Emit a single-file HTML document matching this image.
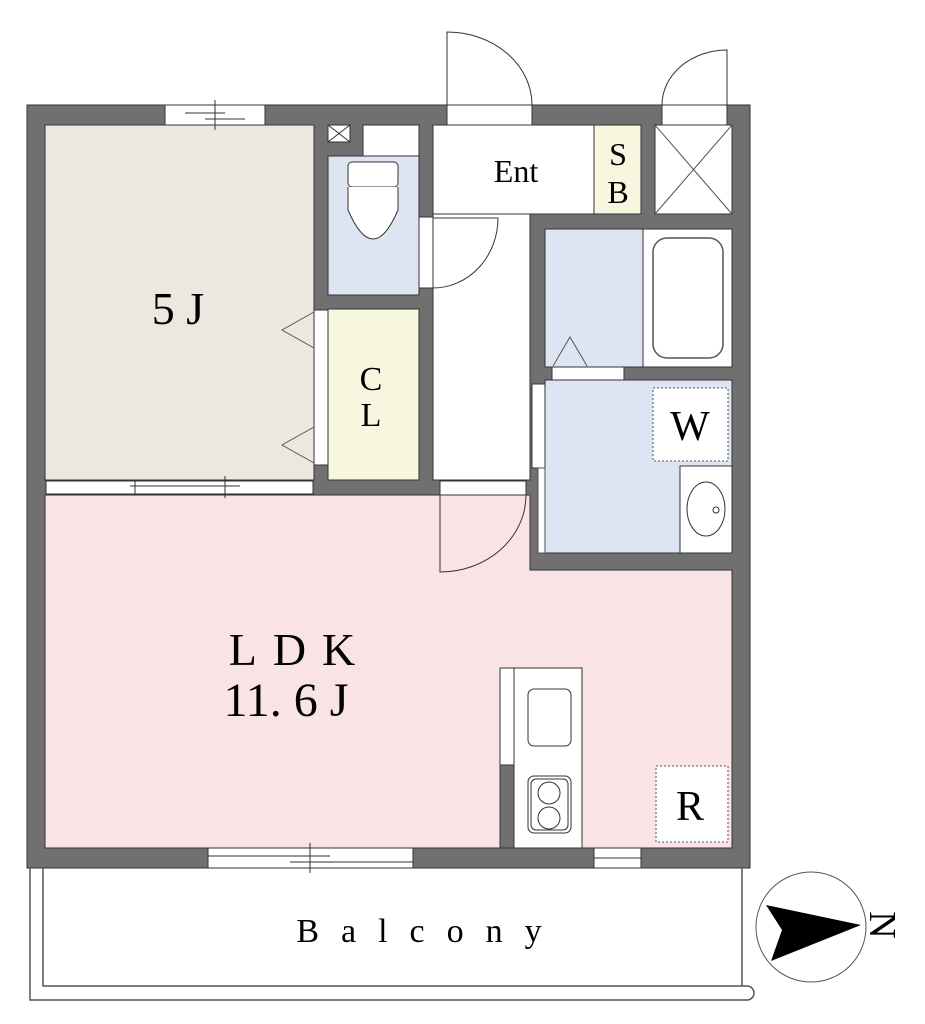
<!DOCTYPE html>
<html><head><meta charset="utf-8"><style>body{margin:0;background:#fff}svg{display:block}text{font-family:"Liberation Serif",serif;fill:#000}</style></head><body>
<svg width="925" height="1024" viewBox="0 0 925 1024" xmlns="http://www.w3.org/2000/svg">
<rect x="27" y="105" width="723" height="763" fill="#707070" stroke="#333" stroke-width="1"/>
<path d="M45 495 H530 V570 H732 V848 H45 Z" fill="#f9e3e4" stroke="#333"/>
<rect x="45" y="125" width="269" height="355" fill="#ece8df" stroke="#333"/>
<rect x="328" y="156" width="91" height="139" fill="#dee5f2" stroke="#333"/>
<rect x="363" y="125" width="56" height="31" fill="#fff" stroke="#333"/>
<rect x="328" y="125" width="22" height="17" fill="#fff" stroke="#333"/>
<path d="M328 125 L350 142 M350 125 L328 142" stroke="#333"/>
<rect x="348" y="162" width="50" height="25" rx="4" fill="#fff" stroke="#333"/>
<rect x="358" y="190" width="30" height="6" fill="#fff" stroke="#333"/>
<path d="M348 187 V210 Q373 268 398 210 V187" fill="#fff" stroke="#333"/>
<rect x="328" y="309" width="91" height="171" fill="#f7f6de" stroke="#333"/>
<rect x="314" y="310" width="14" height="155" fill="#fff" stroke="#333"/>
<path d="M314 312 L282 330 L314 348 M314 427 L282 445 L314 463" fill="none" stroke="#555"/>
<rect x="433" y="125" width="161" height="89" fill="#fff" stroke="#333"/>
<path d="M433 214 H530 V480 H433 Z" fill="#fff" stroke="#333"/>
<rect x="594" y="125" width="47" height="89" fill="#f7f6de" stroke="#333"/>
<rect x="655" y="125" width="77" height="89" fill="#fff" stroke="#333"/>
<path d="M655 125 L732 214 M732 125 L655 214" stroke="#555"/>
<rect x="447" y="105" width="85" height="20" fill="#fff" stroke="#333"/>
<path d="M447 105 V32 A85 73 0 0 1 532 105" fill="none" stroke="#333"/>
<rect x="662" y="105" width="65" height="20" fill="#fff" stroke="#333"/>
<path d="M727 105 V50 A65 55 0 0 0 662 105" fill="none" stroke="#333"/>
<rect x="419" y="217" width="14" height="71" fill="#fff" stroke="#333"/>
<path d="M433 288 A65 70 0 0 0 498 218 H433" fill="none" stroke="#333"/>
<rect x="545" y="229" width="98" height="138" fill="#dee5f2" stroke="#333"/>
<rect x="643" y="229" width="89" height="138" fill="#fff" stroke="#333"/>
<rect x="653" y="238" width="70" height="120" rx="14" fill="#fff" stroke="#555" stroke-width="1.5"/>
<rect x="552" y="367" width="72" height="13" fill="#fff" stroke="#333"/>
<path d="M553 366 L570 337 L587 366" fill="none" stroke="#555"/>
<rect x="545" y="380" width="187" height="173" fill="#dee5f2" stroke="#333"/>
<rect x="653" y="388" width="75" height="73" fill="#fff" stroke="#555" stroke-dasharray="2 2"/>
<rect x="680" y="466" width="52" height="87" fill="#fff" stroke="#333"/>
<ellipse cx="706" cy="509" rx="19" ry="27" fill="#fff" stroke="#333"/>
<circle cx="716" cy="510" r="3" fill="#fff" stroke="#333"/>
<rect x="532" y="384" width="13" height="84" fill="#fff" stroke="#333"/>
<rect x="538" y="468" width="7" height="85" fill="#fff" stroke="#555"/>
<rect x="440" y="481" width="86" height="14" fill="#fff" stroke="#333"/>
<path d="M440 495 V572 A86 77 0 0 0 526 495" fill="none" stroke="#333"/>
<rect x="165" y="105" width="100" height="20" fill="#fff" stroke="#333"/>
<path d="M185 113 H225 M205 119 H245 M215 100 V130" stroke="#333"/>
<rect x="46" y="481" width="267" height="13" fill="#fff" stroke="#333"/>
<path d="M135 481 V494 M130 486 H240 M225 476 V498" stroke="#333"/>
<rect x="208" y="848" width="205" height="20" fill="#fff" stroke="#333"/>
<path d="M208 856 H330 M290 862 H413 M310 843 V873" stroke="#333"/>
<rect x="594" y="848" width="47" height="20" fill="#fff" stroke="#333"/>
<path d="M594 858 H641" stroke="#333"/>
<rect x="500" y="668" width="14" height="180" fill="#707070" stroke="#333"/>
<rect x="500" y="668" width="14" height="97" fill="#fff" stroke="#333"/>
<rect x="514" y="668" width="68" height="180" fill="#fff" stroke="#333"/>
<rect x="528" y="689" width="43" height="57" rx="6" fill="#fff" stroke="#333"/>
<rect x="528" y="776" width="43" height="57" rx="6" fill="#fff" stroke="#333"/>
<rect x="531" y="779" width="37" height="51" rx="5" fill="none" stroke="#333"/>
<circle cx="549" cy="793" r="11" fill="none" stroke="#333"/>
<circle cx="549" cy="818" r="11" fill="none" stroke="#333"/>
<rect x="656" y="766" width="72" height="76" fill="#fff" stroke="#555" stroke-dasharray="2 2"/>
<path d="M30 868 V1000 H747 A6 6 0 0 0 747 986 H43 V868 M742 868 V986" fill="none" stroke="#555" stroke-width="1.5"/>
<circle cx="811" cy="927" r="55" fill="#fff" stroke="#555"/>
<path d="M766 905 L861 925 L771 961 L782 930 Z" fill="#000"/>
<text x="0" y="0" font-size="38" transform="translate(870,925) rotate(90)" text-anchor="middle">N</text>
<text x="178" y="324" font-size="46" text-anchor="middle">5 J</text>
<text x="516" y="182" font-size="32" text-anchor="middle">Ent</text>
<text x="618" y="165" font-size="32" text-anchor="middle">S</text>
<text x="618" y="203" font-size="32" text-anchor="middle">B</text>
<text x="371" y="390" font-size="34" text-anchor="middle">C</text>
<text x="371" y="426" font-size="34" text-anchor="middle">L</text>
<text x="690" y="440" font-size="42" text-anchor="middle">W</text>
<text x="300" y="665" font-size="46" text-anchor="middle" letter-spacing="16">LDK</text>
<text x="286" y="716" font-size="48" text-anchor="middle">11. 6 J</text>
<text x="690" y="820" font-size="42" text-anchor="middle">R</text>
<text x="430" y="942" font-size="34" text-anchor="middle" letter-spacing="22">Balcony</text>
</svg>
</body></html>
